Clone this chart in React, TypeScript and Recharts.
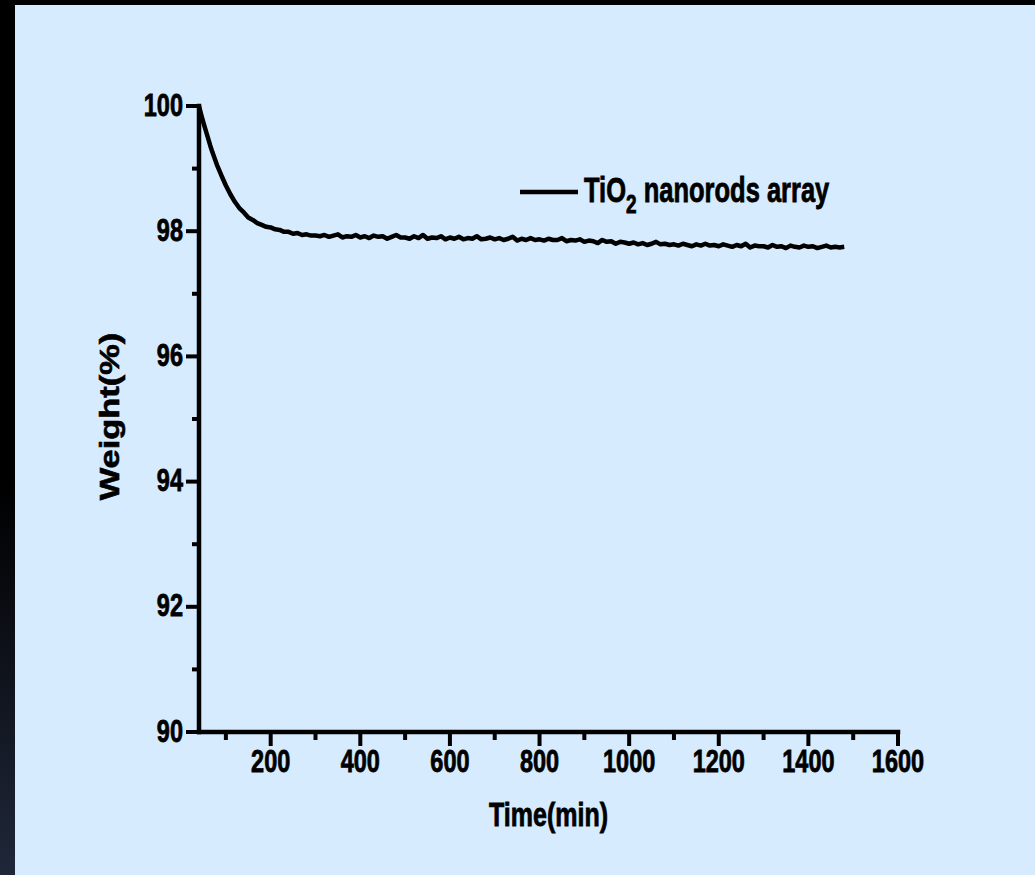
import React from "react";
import { LineChart, Line, XAxis, YAxis, Legend } from "recharts";

// time (min) and weight (%)
const times = [
  40, 45, 50, 55, 60, 65, 70, 80, 90, 100, 110, 120, 130, 140, 150, 160, 170, 180, 190, 200,
  210, 220, 230, 240, 250, 260, 270, 280, 290,
  300, 310, 320, 330, 340, 350, 360, 370, 380, 390,
  400, 410, 420, 430, 440, 450, 460, 470, 480, 490,
  500, 510, 520, 530, 540, 550, 560, 570, 580, 590,
  600, 610, 620, 630, 640, 650, 660, 670, 680, 690,
  700, 710, 720, 730, 740, 750, 760, 770, 780, 790,
  800, 810, 820, 830, 840, 850, 860, 870, 880, 890,
  900, 910, 920, 930, 940, 950, 960, 970, 980, 990,
  1000, 1010, 1020, 1030, 1040, 1050, 1060, 1070, 1080, 1090,
  1100, 1110, 1120, 1130, 1140, 1150, 1160, 1170, 1180, 1190,
  1200, 1210, 1220, 1230, 1240, 1250, 1260, 1270, 1280, 1290,
  1300, 1310, 1320, 1330, 1340, 1350, 1360, 1370, 1380, 1390,
  1400, 1410, 1420, 1430, 1440, 1450, 1460, 1470, 1480,
];

const weights = [
  100.0, 99.86, 99.73, 99.61, 99.49, 99.37, 99.26, 99.06, 98.89, 98.73, 98.59, 98.47, 98.37,
  98.3, 98.22, 98.18, 98.13, 98.1, 98.07, 98.06, 98.03, 98.02, 97.99, 97.99, 97.96, 97.97,
  97.94, 97.95, 97.93,
  97.93, 97.92, 97.94, 97.91, 97.93, 97.95, 97.9, 97.92, 97.91, 97.94,
  97.9, 97.92, 97.89, 97.93, 97.91, 97.92, 97.88, 97.91, 97.94, 97.9,
  97.9, 97.88, 97.92, 97.89, 97.94, 97.88, 97.9, 97.89, 97.92, 97.87,
  97.9, 97.88, 97.91, 97.87, 97.89, 97.88, 97.92, 97.87, 97.88, 97.9,
  97.87, 97.89, 97.86, 97.88, 97.91, 97.85, 97.88, 97.86, 97.89, 97.86,
  97.87, 97.85, 97.88, 97.86, 97.86, 97.89, 97.84, 97.86, 97.85, 97.87,
  97.83, 97.85, 97.84, 97.81, 97.86, 97.83, 97.84, 97.8, 97.83, 97.82,
  97.8, 97.82, 97.79, 97.81, 97.78, 97.8, 97.83, 97.79, 97.8, 97.78,
  97.79, 97.77, 97.8, 97.78, 97.76, 97.79, 97.77, 97.8, 97.77, 97.78,
  97.76, 97.79, 97.77, 97.75, 97.78, 97.76, 97.8, 97.74, 97.77, 97.76,
  97.76, 97.74, 97.78, 97.75, 97.76, 97.73, 97.77, 97.75, 97.74, 97.77,
  97.75, 97.76, 97.73, 97.75, 97.77, 97.74, 97.75, 97.74, 97.75,
];

const xTicks = [100, 200, 300, 400, 500, 600, 700, 800, 900, 1000, 1100, 1200, 1300, 1400, 1500, 1600];
const xLabelled = [200, 400, 600, 800, 1000, 1200, 1400, 1600];
const yTicks = [90, 91, 92, 93, 94, 95, 96, 97, 98, 99, 100];
const yLabelled = [90, 92, 94, 96, 98, 100];

const seriesName = "TiO2 nanorods array";

const data = times.map((t, i) => ({ time: t, weight: weights[i] }));

const FONT = '"Liberation Sans", Arial, sans-serif';
const AXIS = { stroke: "#000", strokeWidth: 4.5, strokeLinecap: "square" as const };
const TXT = { fontFamily: FONT, fontWeight: "bold", fill: "#000", stroke: "#000", strokeWidth: 0.6 };

const BottomTick = (props: any) => {
  const { x, y, payload } = props;
  const major = xLabelled.includes(payload.value);
  return (
    <g>
      <line x1={x} y1={y} x2={x} y2={y + (major ? 14 : 8)} stroke="#000" strokeWidth={4} />
      {major && (
        <text
          transform={`translate(${x},${y + 40}) scale(1,1.33)`}
          textAnchor="middle"
          fontSize={23.5}
          {...TXT}
        >
          {payload.value}
        </text>
      )}
    </g>
  );
};

const LeftTick = (props: any) => {
  const { x, y, payload } = props;
  const major = yLabelled.includes(payload.value);
  return (
    <g>
      <line x1={x} y1={y} x2={x - (major ? 13 : 7)} y2={y} stroke="#000" strokeWidth={4} />
      {major && (
        <text
          transform={`translate(${x - 16},${y + 9.5}) scale(1,1.33)`}
          textAnchor="end"
          fontSize={23.5}
          {...TXT}
        >
          {payload.value}
        </text>
      )}
    </g>
  );
};

const TopTick = (props: any) => {
  const { x, y } = props;
  return <line x1={x} y1={y} x2={x} y2={y + 3.5} stroke="#000" strokeWidth={2.5} />;
};

const RightTick = (props: any) => {
  const { x, y } = props;
  return <line x1={x - 3.5} y1={y} x2={x} y2={y} stroke="#000" strokeWidth={2.5} />;
};

const TimeLabel = (props: any) => {
  const vb = props.viewBox || { x: 199, y: 732, width: 699, height: 60 };
  const cx = vb.x + vb.width / 2;
  return (
    <text
      transform={`translate(${cx},${vb.y + 94}) scale(1,1.32)`}
      textAnchor="middle"
      fontSize={25}
      {...TXT}
    >
      Time(min)
    </text>
  );
};

const WeightLabel = (props: any) => {
  const vb = props.viewBox || { x: 139, y: 106, width: 60, height: 626 };
  const bx = vb.x + vb.width - 80.5;
  const cy = vb.y + vb.height / 2 - 2.5;
  return (
    <text
      transform={`translate(${bx},${cy}) rotate(-90) scale(1.23,1)`}
      textAnchor="middle"
      fontSize={28}
      {...TXT}
    >
      Weight(%)
    </text>
  );
};

const LegendBox = () => (
  <svg width={330} height={60} style={{ display: "block", overflow: "visible" }}>
    <line x1={5} y1={32} x2={63} y2={32} stroke="#000" strokeWidth={4.5} />
    <text transform="translate(69,42) scale(1,1.35)" fontSize={25.5} {...TXT}>
      TiO
      <tspan fontSize={19} dy={8}>
        2
      </tspan>
      <tspan dy={-8}> nanorods array</tspan>
    </text>
  </svg>
);

export default function App() {
  return (
    <div
      style={{
        position: "absolute",
        left: 0,
        top: 0,
        width: 1035,
        height: 875,
        background: "linear-gradient(180deg, #000 0%, #000 55%, #1f2739 100%)",
        overflow: "hidden",
      }}
    >
      <div
        style={{
          position: "absolute",
          left: 15,
          top: 5,
          right: 0,
          bottom: 0,
          background: "#D6EBFE",
        }}
      />
      <div style={{ position: "absolute", left: 0, top: 0 }}>
        <LineChart
          width={1035}
          height={875}
          data={data}
          margin={{ top: 106, right: 137, bottom: 83, left: 139 }}
        >
          <XAxis
            xAxisId={0}
            dataKey="time"
            type="number"
            domain={[40, 1600]}
            ticks={xTicks}
            interval={0}
            tickSize={0}
            tickMargin={0}
            tickLine={false}
            axisLine={AXIS}
            tick={<BottomTick />}
            height={60}
            label={<TimeLabel />}
          />
          <XAxis
            xAxisId="top"
            orientation="top"
            dataKey="time"
            type="number"
            domain={[40, 1600]}
            ticks={xTicks}
            interval={0}
            tickSize={0}
            tickMargin={0}
            tickLine={false}
            axisLine={AXIS}
            tick={<TopTick />}
            height={0}
          />
          <YAxis
            yAxisId={0}
            type="number"
            domain={[90, 100]}
            ticks={yTicks}
            interval={0}
            tickSize={0}
            tickMargin={0}
            tickLine={false}
            axisLine={AXIS}
            tick={<LeftTick />}
            width={60}
            label={<WeightLabel />}
          />
          <YAxis
            yAxisId="right"
            orientation="right"
            type="number"
            domain={[90, 100]}
            ticks={yTicks}
            interval={0}
            tickSize={0}
            tickMargin={0}
            tickLine={false}
            axisLine={AXIS}
            tick={<RightTick />}
            width={0}
          />
          <Legend
            layout="horizontal"
            verticalAlign="middle"
            align="center"
            wrapperStyle={{ left: 515, top: 160, width: 330, height: 60 }}
            content={() => <LegendBox />}
          />
          <Line
            xAxisId={0}
            yAxisId={0}
            dataKey="weight"
            name={seriesName}
            type="linear"
            stroke="#000"
            strokeWidth={4.5}
            strokeLinejoin="round"
            dot={false}
            activeDot={false}
            isAnimationActive={false}
          />
        </LineChart>
      </div>
    </div>
  );
}
